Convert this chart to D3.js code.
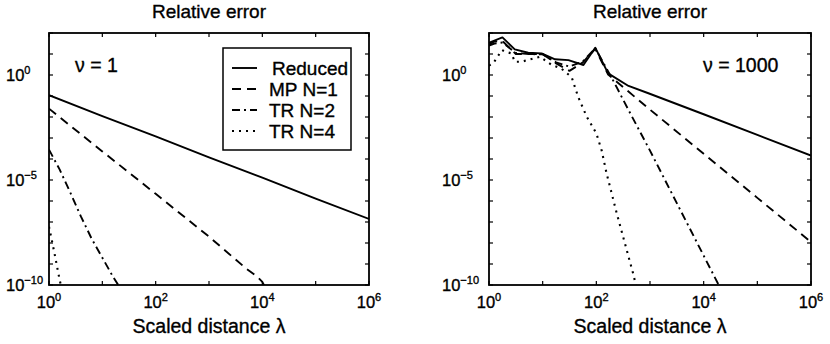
<!DOCTYPE html>
<html>
<head>
<meta charset="utf-8">
<script src="https://cdn.jsdelivr.net/npm/d3@7/dist/d3.min.js"></script>
<style>
  html, body { margin: 0; padding: 0; background: #fff; }
  svg { display: block; }
  text { font-family: "Liberation Sans", Arial, Helvetica, sans-serif; fill: #000; stroke: #000; stroke-width: 0.35px; }
</style>
</head>
<body>
<svg id="chart" width="830" height="344"></svg>
<script>
// ---- Data: scaled distance λ and relative error for each method ----
const seriesNames = ["Reduced", "MP N=1", "TR N=2", "TR N=4"];
const xTickValues = [1e0, 1e2, 1e4, 1e6];
const xTickExponents = ["0", "2", "4", "6"];
const yTickValues = [1e0, 1e-5, 1e-10];
const yTickExponents = ["0", "\u22125", "\u221210"];
const panelTitles = ["Relative error", "Relative error"];
const panelNotes = ["\u03bd = 1", "\u03bd = 1000"];
const xAxisTitle = "Scaled distance \u03bb";

// ν = 1
const nu1ReducedLambda = [1, 10, 100, 1e3, 1e4, 1e5, 1e6];
const nu1ReducedError  = [1.1e-1, 1.1e-2, 1.2e-3, 1.2e-4, 1.3e-5, 1.3e-6, 1.4e-7];
const nu1MP1Lambda = [1, 10, 100, 1e3, 5e3, 8e3, 1e4, 1.12e4];
const nu1MP1Error  = [2.5e-2, 2.3e-4, 2.2e-6, 2.0e-8, 6e-10, 2.5e-10, 1.4e-10, 8e-11];
const nu1TR2Lambda = [1, 1.58, 2.51, 3.98, 6.31, 10, 15.8, 21];
const nu1TR2Error  = [2.8e-4, 3.2e-5, 2.5e-6, 1.8e-7, 1.6e-8, 2e-9, 2.5e-10, 8e-11];
const nu1TR4Lambda = [1, 1.26, 1.58, 1.7];
const nu1TR4Error  = [6e-8, 3.5e-9, 1.8e-10, 8e-11];

// ν = 1000
const nu1000ReducedLambda = [1, 1.78, 3.02, 5.37, 9.55, 17.0, 30.2, 57.5, 95.5, 166, 398, 933, 1e4, 1e5, 1e6];
const nu1000ReducedError  = [34.7, 61.7, 16.6, 11.5, 10.7, 5.6, 5.1, 3.0, 20, 1.2, 0.30, 0.135, 1.35e-2, 1.4e-3, 1.45e-4];
const nu1000MP1Lambda = [1, 1.26, 1.78, 3.16, 5.62, 10, 17.8, 31.6, 56.2, 95.5, 166, 1e3, 1e4, 1e5, 1e6];
const nu1000MP1Error  = [28.2, 39.8, 41.7, 10, 10, 10, 3.55, 1.58, 3.98, 17.8, 1.05, 2.24e-2, 1.78e-4, 1.41e-6, 1.12e-8];
const nu1000TR2Lambda = [1, 1.26, 1.78, 3.16, 5.62, 10, 17.8, 31.6, 56.2, 95.5, 200, 398, 1e3, 3.16e3, 1e4, 2e4];
const nu1000TR2Error  = [25.1, 31.6, 35.5, 11.2, 10, 9.55, 3.98, 2.51, 4.47, 19.1, 0.63, 2.14e-2, 2.5e-4, 7.9e-7, 2.5e-9, 7.9e-11];
const nu1000TR4Lambda = [1, 1.2, 1.74, 2.0, 2.63, 3.02, 4.07, 8.91, 14.8, 22.4, 34.7, 45.7, 66.1, 100, 126, 155, 240, 490, 550];
const nu1000TR4Error  = [2.8, 3.6, 15.5, 12.9, 10.7, 4.3, 4.3, 7.4, 3.0, 2.0, 0.79, 9.3e-2, 1.05e-2, 1.66e-3, 2.5e-4, 2.1e-5, 2.6e-7, 3.2e-10, 8.9e-11];

// ---- Styles ----
const dashStyles = [null, "9,6", "8,4,2,4", "2,5"];

const zip = (xs, ys) => xs.map((x, i) => [x, ys[i]]);

const panels = [
  {
    left: 49, right: 369, top: 33, bottom: 285, labelOffset: 43,
    title: panelTitles[0], note: panelNotes[0], noteX: 75,
    series: [
      zip(nu1ReducedLambda, nu1ReducedError),
      zip(nu1MP1Lambda, nu1MP1Error),
      zip(nu1TR2Lambda, nu1TR2Error),
      zip(nu1TR4Lambda, nu1TR4Error)
    ],
    legend: true
  },
  {
    left: 489, right: 811, top: 33, bottom: 285, labelOffset: 47,
    title: panelTitles[1], note: panelNotes[1], noteX: 703,
    series: [
      zip(nu1000ReducedLambda, nu1000ReducedError),
      zip(nu1000MP1Lambda, nu1000MP1Error),
      zip(nu1000TR2Lambda, nu1000TR2Error),
      zip(nu1000TR4Lambda, nu1000TR4Error)
    ],
    legend: false
  }
];

const svg = d3.select("#chart");

function powerLabel(sel, exponent, supSize) {
  sel.append("tspan").text("10");
  sel.append("tspan").attr("dy", -7).attr("font-size", supSize).text(exponent);
}

panels.forEach((p, pi) => {
  const x = d3.scaleLog().domain([1, 1e6]).range([p.left, p.right]);
  const y = d3.scaleLog().domain([1e-10, 1e2]).range([p.bottom, p.top]);
  const g = svg.append("g");

  const clipId = "clip" + pi;
  g.append("clipPath").attr("id", clipId)
    .append("rect")
    .attr("x", p.left).attr("y", p.top)
    .attr("width", p.right - p.left).attr("height", p.bottom - p.top);

  // Decade ticks on every side, pointing inwards
  const xDecades = d3.range(0, 7).map(e => Math.pow(10, e));
  const yDecades = d3.range(-10, 3).map(e => Math.pow(10, e));
  const tickLen = 4;
  const tickG = g.append("g").attr("stroke", "#000").attr("stroke-width", 1.2);
  xDecades.forEach(v => {
    tickG.append("line").attr("x1", x(v)).attr("x2", x(v)).attr("y1", p.bottom).attr("y2", p.bottom - tickLen);
    tickG.append("line").attr("x1", x(v)).attr("x2", x(v)).attr("y1", p.top).attr("y2", p.top + tickLen);
  });
  yDecades.forEach(v => {
    tickG.append("line").attr("x1", p.left).attr("x2", p.left + tickLen).attr("y1", y(v)).attr("y2", y(v));
    tickG.append("line").attr("x1", p.right).attr("x2", p.right - tickLen).attr("y1", y(v)).attr("y2", y(v));
  });

  // Curves
  const line = d3.line().x(d => x(d[0])).y(d => y(d[1]));
  const curves = g.append("g").attr("clip-path", `url(#${clipId})`);
  p.series.forEach((pts, si) => {
    curves.append("path")
      .attr("d", line(pts))
      .attr("fill", "none")
      .attr("stroke", "#000")
      .attr("stroke-width", si === 3 ? 2.1 : 1.9)
      .attr("stroke-linejoin", "round")
      .attr("stroke-dasharray", dashStyles[si]);
  });

  // Frame
  g.append("rect")
    .attr("x", p.left).attr("y", p.top)
    .attr("width", p.right - p.left).attr("height", p.bottom - p.top)
    .attr("fill", "none").attr("stroke", "#000").attr("stroke-width", 1.8);

  // Tick labels
  xTickValues.forEach((v, i) => {
    const t = g.append("text")
      .attr("x", x(v)).attr("y", p.bottom + 23)
      .attr("text-anchor", "middle").attr("font-size", 16.5);
    powerLabel(t, xTickExponents[i], 11);
  });
  yTickValues.forEach((v, i) => {
    const t = g.append("text")
      .attr("x", p.left - p.labelOffset).attr("y", y(v) + 6)
      .attr("font-size", 16.5);
    powerLabel(t, yTickExponents[i], 11);
  });

  // Titles
  g.append("text")
    .attr("x", (p.left + p.right) / 2).attr("y", 18)
    .attr("text-anchor", "middle").attr("font-size", 19)
    .text(p.title);
  g.append("text")
    .attr("x", (p.left + p.right) / 2).attr("y", 333)
    .attr("text-anchor", "middle").attr("font-size", 19.5)
    .text(xAxisTitle);
  g.append("text")
    .attr("x", p.noteX).attr("y", 72)
    .attr("font-size", 19.5)
    .text(p.note);

  // Legend
  if (p.legend) {
    const lg = g.append("g");
    lg.append("rect")
      .attr("x", 223).attr("y", 48).attr("width", 128).attr("height", 102)
      .attr("fill", "#fff").attr("stroke", "#000").attr("stroke-width", 1.5);
    seriesNames.forEach((name, i) => {
      const cy = 68 + i * 21;
      lg.append("line")
        .attr("x1", 232).attr("x2", 257).attr("y1", cy).attr("y2", cy)
        .attr("stroke", "#000").attr("stroke-width", i === 3 ? 2.1 : 1.9)
        .attr("stroke-dasharray", dashStyles[i]);
      lg.append("text")
        .attr("x", i === 0 ? 272 : 269).attr("y", cy + 7)
        .attr("font-size", 19)
        .text(name);
    });
  }
});
</script>
</body>
</html>
